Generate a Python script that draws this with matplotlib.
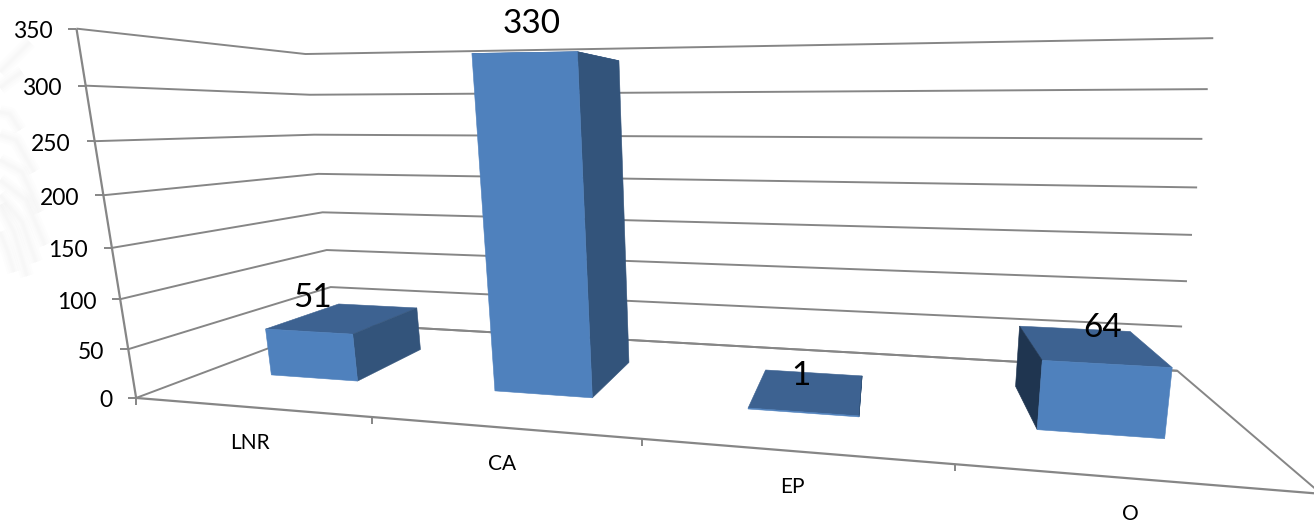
import numpy as np
import matplotlib
matplotlib.use("Agg")
import matplotlib.pyplot as plt

categories = ["LNR", "CA", "EP", "O"]
values = [51, 330, 1, 64]
y_ticks = [0, 50, 100, 150, 200, 250, 300, 350]

# pixel positions of the chart box in the picture, used to fit the perspective
left_axis_px = [(136, 397), (128, 348), (120, 298), (112, 247), (103, 195), (95, 141), (86, 86), (77, 29)]
back_corner_px = [(334, 324), (331, 287), (327, 250), (323, 212), (319, 174), (315, 135), (309, 95), (304, 54)]
back_right_px = [(1177, 370), (1182, 326), (1187, 281), (1192, 235), (1197, 188), (1203, 139), (1208, 89), (1213, 38)]
front_axis_px = [(136, 397), (372, 421), (642, 441), (955, 464), (1321, 493)]

# faint palm leaf strokes in the slide background
palm_strokes = [
    [(0, 205), (14, 232), (27, 276)], [(0, 195), (22, 222), (36, 262)], [(0, 180), (26, 200), (45, 245)],
    [(0, 160), (22, 172), (40, 212)], [(0, 232), (8, 252), (14, 272)], [(0, 135), (16, 140), (34, 172)],
    [(0, 112), (10, 114), (20, 130)], [(0, 72), (14, 58), (30, 42)], [(0, 88), (10, 80), (22, 72)],
]

GRID = "#868686"
FRONT = "#4F81BD"
SIDE = "#33547B"
TOP = "#3D6291"
LEFT_SIDE = "#1F3550"
BAR_X = (0.3, 0.7)
BAR_Z = (0.3, 0.7)

plt.rcParams["font.family"] = ["Lato", "DejaVu Sans"]


def fit_camera():
    world = []
    pix = []
    for v, a, b, c in zip(y_ticks, left_axis_px, back_corner_px, back_right_px):
        world += [(0, 0, v), (0, 1, v), (4, 1, v)]
        pix += [a, b, c]
    for i, p in enumerate(front_axis_px):
        world.append((i, 0, 0))
        pix.append(p)
    rows = []
    for (x, z, v), (u, w) in zip(world, pix):
        v = v / 100
        rows.append([x, z, v, 1, 0, 0, 0, 0, -u * x, -u * z, -u * v, -u])
        rows.append([0, 0, 0, 0, x, z, v, 1, -w * x, -w * z, -w * v, -w])
    return np.linalg.svd(np.array(rows, dtype=float))[2][-1].reshape(3, 4)


cam = fit_camera()


def project(x, z, v):
    p = cam @ np.array([x, z, v / 100, 1.0])
    return p[0] / p[2], p[1] / p[2]


def face(a, color, zo):
    pts = np.array([project(*c) for c in a])
    ax.fill(pts[:, 0], pts[:, 1], color=color, lw=0.4, zorder=zo)


def line(a, lw=1.4, color=GRID):
    pts = np.array(a)
    ax.plot(pts[:, 0], pts[:, 1], color=color, lw=lw, zorder=1, solid_capstyle="butt")


fig = plt.figure(figsize=(13.14, 5.23), dpi=100)
ax = fig.add_axes([0, 0, 1, 1])
ax.set_xlim(0, 1314)
ax.set_ylim(523, 0)
ax.axis("off")

for stroke in palm_strokes:
    pts = np.array(stroke)
    for w in (2, 4, 7, 10):
        ax.plot(pts[:, 0], pts[:, 1], color="#808080", alpha=0.016, lw=w, zorder=0, solid_capstyle="butt")

# walls
for v in y_ticks:
    line([project(0, 0, v), project(0, 1, v), project(4, 1, v)])
    x0, y0 = project(0, 0, v)
    line([(x0 - 8, y0), (x0, y0)])
line([project(0, 0, 0), project(0, 0, 350)], lw=1.6)
line([project(0, 1, 0), project(4, 1, 0), project(4, 0, 0)])
line([project(0, 0, 0), project(4, 0, 0)], lw=1.6)
for i in range(4):
    x0, y0 = project(i, 0, 0)
    line([(x0, y0), (x0, y0 + 7)])

for i, val in enumerate(values):
    xa, xb = i + BAR_X[0], i + BAR_X[1]
    za, zb = BAR_Z
    # top goes under the sides so the tall bar, seen from below, hides it
    face([(xa, za, val), (xb, za, val), (xb, zb, val), (xa, zb, val)], TOP, 2)
    if i < 3:
        face([(xb, za, 0), (xb, zb, 0), (xb, zb, val), (xb, za, val)], SIDE, 3)
    else:
        face([(xa, za, 0), (xa, zb, 0), (xa, zb, val), (xa, za, val)], LEFT_SIDE, 3)
    face([(xa, za, 0), (xb, za, 0), (xb, za, val), (xa, za, val)], FRONT, 5)

label_offsets = [(-33, -20), (-18, -33), (-7, -15), (14, -17)]
for i, val in enumerate(values):
    px, py = project(i + 0.5, 0.5, val)
    ax.text(px + label_offsets[i][0], py + label_offsets[i][1], str(val), fontsize=24,
            color="black", ha="center", va="center", zorder=6)
    qx, qy = project(i + 0.5, 0, 0)
    ax.text(qx, qy + 36, categories[i], fontsize=15, color="black", ha="center", va="center", zorder=6)

for v in y_ticks:
    x0, y0 = project(0, 0, v)
    ax.text(x0 - 24, y0 + 3, str(v), fontsize=16.5, color="black", ha="right", va="center", zorder=6)

fig.savefig("out.png", dpi=100)
